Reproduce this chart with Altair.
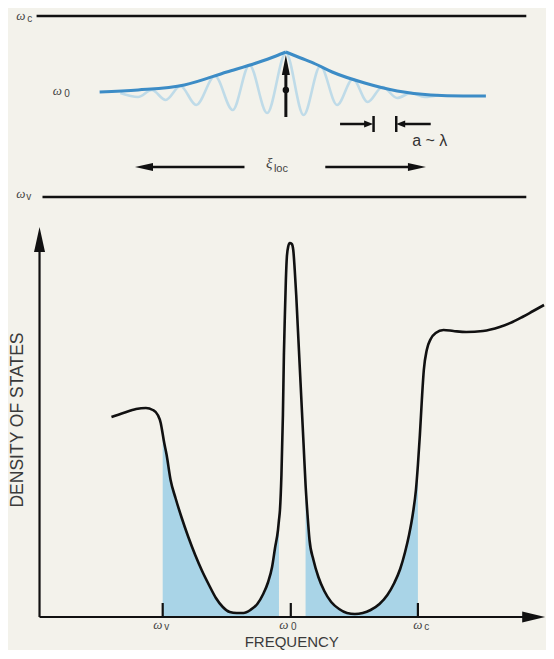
import altair as alt
import pandas as pd

# ---------------- colours ----------------
BG = "#f3f2eb"
INK = "#111111"
LABEL = "#444444"
ENV_BLUE = "#3c8cc6"
WAVE_BLUE = "#bfdbe8"
FILL_BLUE = "#a9d4e7"

W = 538          # drawing width (fits the page without overflow)
H = 642          # drawing height
SPLIT = 200      # boundary between the two panels (top band height)

# ---------------- top panel: localized state ----------------
# x = position along the lattice (arb. units, 0 = centre of localization)
# y = frequency level (arb. units, 0 = band edge w_v)
TOP_X = [-282, 264]
TOP_Y = [-11, 189]

level_pos_start = [-253, -247]
level_pos_end = [244, 244]
level_E = [181, 0]

env_left_pos = [-189, -150, -103, -60, -30, -10, 0]
env_left_E = [105, 107, 112, 125, 134, 141, 145]
env_right_pos = [0, 15, 30, 47, 80, 113, 147, 180, 203]
env_right_E = [145, 139, 133, 125, 114, 106, 102, 101, 101]

wave_pos = [-168, -150, -136, -122, -107, -91, -72, -54, -37, -19, 0,
            18, 35, 52, 68, 83, 98, 113, 127, 141, 155]
wave_E = [104, 100, 107, 97, 111, 92, 121, 87, 132, 84, 144,
          82, 131, 92, 118, 95, 110, 99, 104, 100, 102]

# line segments: centre arrow shaft, a~lambda markers, xi_loc arrows
seg_x1 = [0, 55, 89, 112, 120, -136, 40]
seg_x2 = [0, 81, 89, 112, 147, -42, 126]
seg_y1 = [80, 73, 65, 65, 73, 30, 30]
seg_y2 = [124, 73, 81, 81, 73, 30, 30]
seg_w = [3, 2.5, 2.5, 2.5, 2.5, 2.6, 2.6]

UP = "M0,-1L0.4,1L-0.4,1Z"
RIGHT_S = "M1,0L-1,-0.78L-1,0.78Z"
LEFT_S = "M-1,0L1,-0.78L1,0.78Z"
LEFT_L = "M-1,0L1,-0.44L1,0.44Z"
RIGHT_L = "M1,0L-1,-0.44L-1,0.44Z"
head_x = [0, 84, 116.5, -144, 133]
head_y = [132, 73, 73, 30, 30]
head_shape = [UP, RIGHT_S, LEFT_S, LEFT_L, RIGHT_L]
head_size = [400, 81, 81, 324, 324]

dot_pos = [0]
dot_E = [107]

top_greek = ["ω", "ω", "ω", "ξ"]
top_greek_x = [-269, -232, -269, -17]
top_greek_y = [177, 102, -1, 29]
top_greek_size = [13, 13, 13, 15]

top_sub = ["c", "0", "v", "loc"]
top_sub_x = [-260, -222, -261, -5]
top_sub_y = [175, 100, -3, 25]
top_sub_size = [10, 10, 10, 11]

top_note = ["a ~ λ"]
top_note_x = [146]
top_note_y = [51]

# ---------------- bottom panel: density of states ----------------
BOT_X = [-32, 514]
BOT_Y = [-33, 409]

dos_freq = [73, 85, 98, 108, 115, 120, 123, 125, 126, 129,
            133, 138, 144, 151, 158, 165, 172, 179, 186, 193,
            200, 207, 214, 221, 227, 232, 236, 239, 242, 243,
            244, 245.5, 247, 248, 249, 250, 251, 252.5, 254, 256,
            257.5, 259, 260.5, 262, 264, 266, 268, 270, 272, 274,
            278, 283, 289, 296, 304, 312, 320, 328, 336, 345,
            353, 360, 366, 371, 375, 379, 382, 384, 386, 388,
            390, 393, 397, 402, 410, 420, 433, 450, 467, 480,
            490, 501, 512]
dos_value = [200, 204, 208, 209, 207, 202, 194, 183, 177, 162,
             137, 119, 100, 80, 62, 46, 32, 19, 10, 5,
             4, 4, 7, 13, 23, 35, 50, 69, 87, 97,
             107, 142, 202, 262, 302, 337, 360, 371, 374, 373,
             367, 347, 322, 292, 252, 212, 172, 132, 102, 77,
             57, 40, 26, 15, 8, 4, 3, 4, 7, 13,
             22, 34, 48, 65, 82, 104, 127, 152, 182, 217,
             247, 267, 278, 284, 287, 286, 285, 286, 290, 295,
             300, 306, 312]

shade_names = ["valence tail", "conduction tail"]
shade_from = [125, 270]
shade_to = [243, 384]

tick_freq = [125, 255, 384]
tick_len = 14

axis_x1 = [0, 0] + tick_freq
axis_x2 = [492, 0] + tick_freq
axis_y1 = [0, 0] + [0, 0, 0]
axis_y2 = [0, 368] + [tick_len] * 3

AX_UP = "M0,-1L0.44,1L-0.44,1Z"
AX_RIGHT = "M1,0L-1,-0.48L-1,0.48Z"
axhead_x = [0, 501.5]
axhead_y = [377.5, 0]
axhead_shape = [AX_UP, AX_RIGHT]
axhead_size = [625, 529]

bot_greek_x = [120, 248, 384]
bot_greek_y = [-11.5, -11.5, -11.5]
bot_sub = ["v", "0", "c"]
bot_sub_x = [129, 258, 393]
bot_sub_y = [-13, -13, -13]

x_title = "FREQUENCY"
x_title_pos = [256, -29.5]
y_title = "DENSITY OF STATES"
y_title_pos = [-22, 197]


def scale(dom, rng):
    return alt.Scale(domain=dom, range=rng, nice=False, zero=False)


def TX(field):
    return alt.X(f"{field}:Q", scale=scale(TOP_X, [0, W]), axis=None)


def TY(field):
    return alt.Y(f"{field}:Q", scale=scale(TOP_Y, [SPLIT, 0]), axis=None)


def BX(field):
    return alt.X(f"{field}:Q", scale=scale(BOT_X, [0, W]), axis=None)


def BY(field):
    return alt.Y(f"{field}:Q", scale=scale(BOT_Y, [H, SPLIT]), axis=None)


# ---------- top panel layers ----------
levels = pd.DataFrame({"x1": level_pos_start, "x2": level_pos_end, "E": level_E})
env = pd.concat([
    pd.DataFrame({"pos": env_left_pos, "E": env_left_E, "side": "left"}),
    pd.DataFrame({"pos": env_right_pos, "E": env_right_E, "side": "right"}),
])
wave = pd.DataFrame({"pos": wave_pos, "E": wave_E})
segs = pd.DataFrame({"x1": seg_x1, "x2": seg_x2, "y1": seg_y1, "y2": seg_y2, "w": seg_w})
heads = pd.DataFrame({"x": head_x, "y": head_y, "shape": head_shape, "size": head_size})
dot = pd.DataFrame({"pos": dot_pos, "E": dot_E})
tgreek = pd.DataFrame({"x": top_greek_x, "y": top_greek_y, "t": top_greek, "s": top_greek_size})
tsub = pd.DataFrame({"x": top_sub_x, "y": top_sub_y, "t": top_sub, "s": top_sub_size})
tnote = pd.DataFrame({"x": top_note_x, "y": top_note_y, "t": top_note})

top_layers = [
    alt.Chart(levels).mark_rule(color=INK, strokeWidth=2.6).encode(
        x=TX("x1"), x2="x2:Q", y=TY("E")),
    alt.Chart(wave).mark_line(interpolate="monotone", color=WAVE_BLUE, strokeWidth=2.6).encode(
        x=TX("pos"), y=TY("E")),
    alt.Chart(env).mark_line(interpolate="monotone", color=ENV_BLUE, strokeWidth=3).encode(
        x=TX("pos"), y=TY("E"), detail="side:N"),
    alt.Chart(segs).mark_rule(color=INK).encode(
        x=TX("x1"), x2="x2:Q", y=TY("y1"), y2="y2:Q",
        size=alt.Size("w:Q", scale=None)),
    alt.Chart(heads).mark_point(filled=True, color=INK, opacity=1, strokeWidth=0).encode(
        x=TX("x"), y=TY("y"),
        shape=alt.Shape("shape:N", scale=None), size=alt.Size("size:Q", scale=None)),
    alt.Chart(dot).mark_circle(color=INK, opacity=1, size=42).encode(
        x=TX("pos"), y=TY("E")),
    alt.Chart(tgreek).mark_text(font="Liberation Serif", fontStyle="italic", color=LABEL,
                                baseline="alphabetic", align="center").encode(
        x=TX("x"), y=TY("y"), text="t:N", size=alt.Size("s:Q", scale=None)),
    alt.Chart(tsub).mark_text(font="Liberation Sans", color=LABEL,
                              baseline="alphabetic", align="center").encode(
        x=TX("x"), y=TY("y"), text="t:N", size=alt.Size("s:Q", scale=None)),
    alt.Chart(tnote).mark_text(font="Liberation Sans", fontSize=16, color="#333333",
                               baseline="alphabetic", align="center").encode(
        x=TX("x"), y=TY("y"), text="t:N"),
]

# ---------- bottom panel layers ----------
dos = pd.DataFrame({"f": dos_freq, "D": dos_value})
shade_parts = []
for name, a, b in zip(shade_names, shade_from, shade_to):
    part = dos[(dos["f"] >= a) & (dos["f"] <= b)].copy()
    part["region"] = name
    part["base"] = 0
    shade_parts.append(part)
shade = pd.concat(shade_parts)
axes = pd.DataFrame({"x1": axis_x1, "x2": axis_x2, "y1": axis_y1, "y2": axis_y2})
axheads = pd.DataFrame({"x": axhead_x, "y": axhead_y, "shape": axhead_shape, "size": axhead_size})
bgreek = pd.DataFrame({"x": bot_greek_x, "y": bot_greek_y, "t": ["ω"] * 3})
bsub = pd.DataFrame({"x": bot_sub_x, "y": bot_sub_y, "t": bot_sub})
xt = pd.DataFrame({"x": [x_title_pos[0]], "y": [x_title_pos[1]], "t": [x_title]})
yt = pd.DataFrame({"x": [y_title_pos[0]], "y": [y_title_pos[1]], "t": [y_title]})

bot_layers = [
    alt.Chart(shade).mark_area(color=FILL_BLUE, opacity=1, interpolate="monotone").encode(
        x=BX("f"), y=BY("D"), y2="base:Q", detail="region:N"),
    alt.Chart(dos).mark_line(interpolate="monotone", color=INK, strokeWidth=2.6).encode(
        x=BX("f"), y=BY("D")),
    alt.Chart(axes).mark_rule(color=INK, strokeWidth=2.2).encode(
        x=BX("x1"), x2="x2:Q", y=BY("y1"), y2="y2:Q"),
    alt.Chart(axheads).mark_point(filled=True, color=INK, opacity=1, strokeWidth=0).encode(
        x=BX("x"), y=BY("y"),
        shape=alt.Shape("shape:N", scale=None), size=alt.Size("size:Q", scale=None)),
    alt.Chart(bgreek).mark_text(font="Liberation Serif", fontStyle="italic", fontSize=13,
                                color=LABEL, baseline="alphabetic", align="center").encode(
        x=BX("x"), y=BY("y"), text="t:N"),
    alt.Chart(bsub).mark_text(font="Liberation Sans", fontSize=10, color=LABEL,
                              baseline="alphabetic", align="center").encode(
        x=BX("x"), y=BY("y"), text="t:N"),
    alt.Chart(xt).mark_text(font="Liberation Sans", fontSize=15, color="#3a3a3a",
                            baseline="alphabetic", align="center").encode(
        x=BX("x"), y=BY("y"), text="t:N"),
    alt.Chart(yt).mark_text(font="Liberation Sans", fontSize=17.5, color="#3a3a3a",
                            baseline="middle", align="center", angle=270).encode(
        x=BX("x"), y=BY("y"), text="t:N"),
]

chart = (
    alt.layer(*top_layers, *bot_layers)
    .resolve_scale(x="independent", y="independent")
    .properties(width=W, height=H, background=BG, padding=0,
                autosize=alt.AutoSizeParams(type="none"))
    .configure_view(strokeWidth=0)
)

chart.save("out.html", embed_options={"renderer": "svg", "actions": False})
